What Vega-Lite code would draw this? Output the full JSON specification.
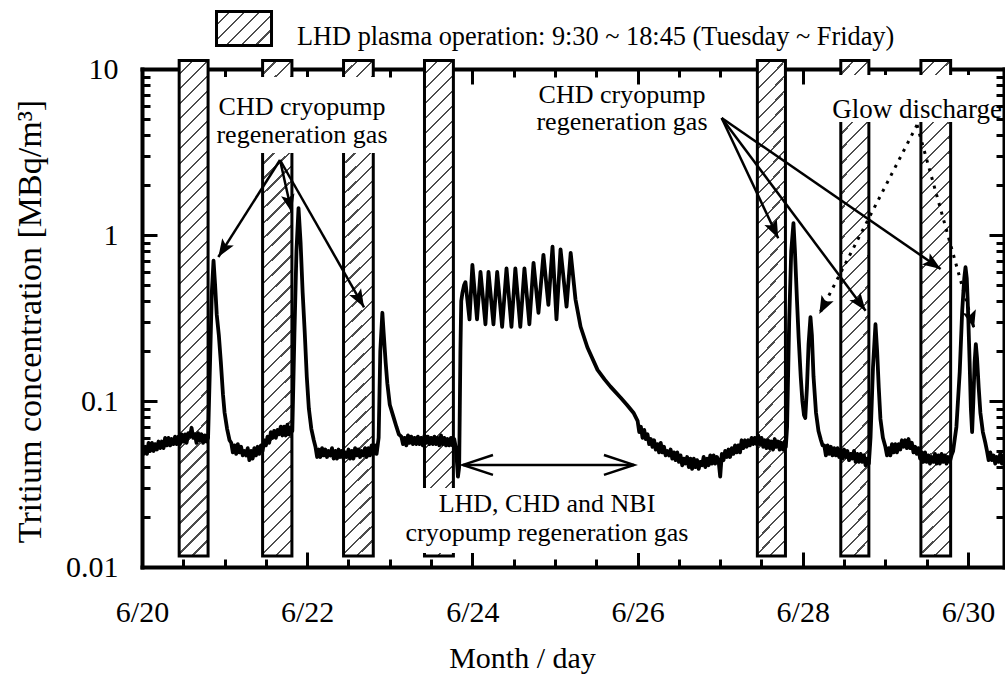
{
  "$schema": "https://vega.github.io/schema/vega-lite/v6.json",
  "width": 862,
  "height": 498,
  "autosize": {"type": "none"},
  "padding": {"left": 142, "top": 69, "right": 1, "bottom": 110},
  "background": "white",
  "view": {"stroke": null},
  "config": {
    "font": "Liberation Serif",
    "axis": {"domainColor": "black", "domainWidth": 4, "domainCap": "square", "tickColor": "black", "tickWidth": 3, "grid": false, "labelColor": "black", "labelFont": "Liberation Serif", "labelFontSize": 30, "titleFont": "Liberation Serif", "titleFontSize": 30, "titleFontWeight": "normal", "titleColor": "black", "labelOverlap": false, "labelFlush": false, "labelBound": false},
    "text": {"font": "Liberation Serif", "fontSize": 26, "color": "black"}
  },
  "datasets": {
    "series": [
      {"day":20.00,"conc":0.054},{"day":20.02,"conc":0.048},{"day":20.04,"conc":0.053},{"day":20.06,"conc":0.048},{"day":20.08,"conc":0.056},{"day":20.10,"conc":0.050},{"day":20.12,"conc":0.056},{"day":20.14,"conc":0.050},{"day":20.16,"conc":0.055},{"day":20.18,"conc":0.051},{"day":20.20,"conc":0.057},{"day":20.22,"conc":0.052},{"day":20.24,"conc":0.057},{"day":20.26,"conc":0.052},{"day":20.28,"conc":0.060},{"day":20.30,"conc":0.054},{"day":20.32,"conc":0.060},{"day":20.34,"conc":0.054},{"day":20.36,"conc":0.059},{"day":20.38,"conc":0.055},{"day":20.40,"conc":0.061},{"day":20.42,"conc":0.055},{"day":20.44,"conc":0.061},{"day":20.46,"conc":0.055},{"day":20.48,"conc":0.063},{"day":20.50,"conc":0.057},{"day":20.52,"conc":0.063},{"day":20.54,"conc":0.056},{"day":20.56,"conc":0.064},{"day":20.58,"conc":0.061},{"day":20.60,"conc":0.069},{"day":20.62,"conc":0.060},{"day":20.64,"conc":0.063},{"day":20.66,"conc":0.056},{"day":20.68,"conc":0.064},{"day":20.70,"conc":0.058},{"day":20.72,"conc":0.063},{"day":20.74,"conc":0.056},{"day":20.76,"conc":0.062},{"day":20.78,"conc":0.057},{"day":20.80,"conc":0.060},
      {"day":20.825,"conc":0.18},{"day":20.845,"conc":0.45},{"day":20.866,"conc":0.70},{"day":20.885,"conc":0.50},{"day":20.905,"conc":0.33},{"day":20.93,"conc":0.25},{"day":20.955,"conc":0.17},{"day":20.98,"conc":0.11},{"day":21.00,"conc":0.085},{"day":21.03,"conc":0.068},{"day":21.06,"conc":0.058},
      {"day":21.08,"conc":0.056},{"day":21.10,"conc":0.049},{"day":21.12,"conc":0.054},{"day":21.14,"conc":0.048},{"day":21.16,"conc":0.055},{"day":21.18,"conc":0.049},{"day":21.20,"conc":0.053},{"day":21.22,"conc":0.047},{"day":21.24,"conc":0.050},{"day":21.26,"conc":0.047},{"day":21.28,"conc":0.052},{"day":21.30,"conc":0.044},{"day":21.32,"conc":0.050},{"day":21.34,"conc":0.045},{"day":21.36,"conc":0.052},{"day":21.38,"conc":0.047},{"day":21.40,"conc":0.053},{"day":21.42,"conc":0.048},{"day":21.44,"conc":0.054},{"day":21.46,"conc":0.050},{"day":21.48,"conc":0.058},{"day":21.50,"conc":0.054},{"day":21.52,"conc":0.061},{"day":21.54,"conc":0.056},{"day":21.56,"conc":0.065},{"day":21.58,"conc":0.060},{"day":21.60,"conc":0.066},{"day":21.62,"conc":0.060},{"day":21.64,"conc":0.067},{"day":21.66,"conc":0.063},{"day":21.68,"conc":0.070},{"day":21.70,"conc":0.062},{"day":21.72,"conc":0.070},{"day":21.74,"conc":0.062},{"day":21.76,"conc":0.072},{"day":21.78,"conc":0.063},{"day":21.80,"conc":0.069},{"day":21.82,"conc":0.066},
      {"day":21.845,"conc":0.25},{"day":21.87,"conc":0.80},{"day":21.895,"conc":1.45},{"day":21.92,"conc":0.90},{"day":21.945,"conc":0.45},{"day":21.97,"conc":0.26},{"day":21.995,"conc":0.14},{"day":22.02,"conc":0.09},{"day":22.05,"conc":0.068},{"day":22.08,"conc":0.058},
      {"day":22.10,"conc":0.053},{"day":22.12,"conc":0.046},{"day":22.14,"conc":0.051},{"day":22.16,"conc":0.046},{"day":22.18,"conc":0.052},{"day":22.20,"conc":0.047},{"day":22.22,"conc":0.051},{"day":22.24,"conc":0.046},{"day":22.26,"conc":0.050},{"day":22.28,"conc":0.047},{"day":22.30,"conc":0.052},{"day":22.32,"conc":0.045},{"day":22.34,"conc":0.050},{"day":22.36,"conc":0.045},{"day":22.38,"conc":0.051},{"day":22.40,"conc":0.046},{"day":22.42,"conc":0.050},{"day":22.44,"conc":0.045},{"day":22.46,"conc":0.049},{"day":22.48,"conc":0.046},{"day":22.50,"conc":0.051},{"day":22.52,"conc":0.045},{"day":22.54,"conc":0.050},{"day":22.56,"conc":0.045},{"day":22.58,"conc":0.052},{"day":22.60,"conc":0.047},{"day":22.62,"conc":0.051},{"day":22.64,"conc":0.046},{"day":22.66,"conc":0.050},{"day":22.68,"conc":0.047},{"day":22.70,"conc":0.052},{"day":22.72,"conc":0.046},{"day":22.74,"conc":0.052},{"day":22.76,"conc":0.047},{"day":22.78,"conc":0.054},{"day":22.80,"conc":0.048},{"day":22.82,"conc":0.054},{"day":22.84,"conc":0.048},{"day":22.865,"conc":0.060},
      {"day":22.885,"conc":0.20},{"day":22.91,"conc":0.34},{"day":22.925,"conc":0.26},{"day":22.95,"conc":0.17},{"day":22.97,"conc":0.128},{"day":23.00,"conc":0.095},{"day":23.045,"conc":0.080},{"day":23.08,"conc":0.070},{"day":23.11,"conc":0.063},
      {"day":23.14,"conc":0.061},{"day":23.16,"conc":0.055},{"day":23.18,"conc":0.060},{"day":23.20,"conc":0.054},{"day":23.22,"conc":0.062},{"day":23.24,"conc":0.056},{"day":23.26,"conc":0.061},{"day":23.28,"conc":0.055},{"day":23.30,"conc":0.060},{"day":23.32,"conc":0.055},{"day":23.34,"conc":0.061},{"day":23.36,"conc":0.055},{"day":23.38,"conc":0.060},{"day":23.40,"conc":0.054},{"day":23.42,"conc":0.062},{"day":23.44,"conc":0.056},{"day":23.46,"conc":0.061},{"day":23.48,"conc":0.055},{"day":23.50,"conc":0.060},{"day":23.52,"conc":0.055},{"day":23.54,"conc":0.061},{"day":23.56,"conc":0.055},{"day":23.58,"conc":0.060},{"day":23.60,"conc":0.054},{"day":23.62,"conc":0.062},{"day":23.64,"conc":0.055},{"day":23.66,"conc":0.060},{"day":23.68,"conc":0.054},{"day":23.70,"conc":0.059},{"day":23.72,"conc":0.054},{"day":23.74,"conc":0.060},{"day":23.76,"conc":0.054},{"day":23.78,"conc":0.059},{"day":23.80,"conc":0.052},
      {"day":23.81,"conc":0.045},{"day":23.825,"conc":0.035},{"day":23.84,"conc":0.040},{"day":23.855,"conc":0.20},{"day":23.865,"conc":0.40},{"day":23.88,"conc":0.45},{"day":23.90,"conc":0.50},{"day":23.916,"conc":0.52},
      {"day":23.965,"conc":0.31},{"day":24.00,"conc":0.66},{"day":24.056,"conc":0.31},{"day":24.098,"conc":0.60},{"day":24.158,"conc":0.29},{"day":24.195,"conc":0.60},{"day":24.255,"conc":0.29},{"day":24.30,"conc":0.60},{"day":24.36,"conc":0.28},{"day":24.413,"conc":0.63},{"day":24.473,"conc":0.28},{"day":24.52,"conc":0.63},{"day":24.58,"conc":0.28},{"day":24.63,"conc":0.63},{"day":24.69,"conc":0.29},{"day":24.74,"conc":0.68},{"day":24.80,"conc":0.34},{"day":24.86,"conc":0.76},{"day":24.92,"conc":0.38},{"day":24.97,"conc":0.85},{"day":25.018,"conc":0.31},{"day":25.067,"conc":0.82},{"day":25.14,"conc":0.37},{"day":25.19,"conc":0.78},
      {"day":25.248,"conc":0.41},{"day":25.31,"conc":0.28},{"day":25.393,"conc":0.21},{"day":25.515,"conc":0.154},{"day":25.60,"conc":0.135},{"day":25.672,"conc":0.122},{"day":25.793,"conc":0.105},{"day":25.87,"conc":0.095},{"day":25.95,"conc":0.085},
      {"day":26.00,"conc":0.076},{"day":26.02,"conc":0.065},{"day":26.04,"conc":0.070},{"day":26.06,"conc":0.060},{"day":26.08,"conc":0.067},{"day":26.10,"conc":0.059},{"day":26.12,"conc":0.063},{"day":26.14,"conc":0.055},{"day":26.16,"conc":0.059},{"day":26.18,"conc":0.053},{"day":26.20,"conc":0.058},{"day":26.22,"conc":0.051},{"day":26.24,"conc":0.055},{"day":26.26,"conc":0.049},{"day":26.28,"conc":0.056},{"day":26.30,"conc":0.049},{"day":26.32,"conc":0.053},{"day":26.34,"conc":0.047},{"day":26.36,"conc":0.050},{"day":26.38,"conc":0.047},{"day":26.40,"conc":0.051},{"day":26.42,"conc":0.045},{"day":26.44,"conc":0.049},{"day":26.46,"conc":0.044},{"day":26.48,"conc":0.049},{"day":26.50,"conc":0.043},{"day":26.52,"conc":0.047},{"day":26.54,"conc":0.041},{"day":26.56,"conc":0.045},{"day":26.58,"conc":0.042},{"day":26.60,"conc":0.046},{"day":26.62,"conc":0.040},{"day":26.64,"conc":0.045},{"day":26.66,"conc":0.039},{"day":26.68,"conc":0.045},{"day":26.70,"conc":0.040},{"day":26.72,"conc":0.044},{"day":26.74,"conc":0.039},{"day":26.76,"conc":0.043},{"day":26.78,"conc":0.041},{"day":26.80,"conc":0.046},{"day":26.82,"conc":0.040},{"day":26.84,"conc":0.045},{"day":26.86,"conc":0.041},{"day":26.88,"conc":0.047},{"day":26.90,"conc":0.042},{"day":26.92,"conc":0.047},{"day":26.94,"conc":0.042},{"day":26.96,"conc":0.046},{"day":26.98,"conc":0.044},{"day":27.00,"conc":0.035},{"day":27.02,"conc":0.048},{"day":27.04,"conc":0.044},{"day":27.06,"conc":0.050},{"day":27.08,"conc":0.046},{"day":27.10,"conc":0.051},{"day":27.12,"conc":0.046},{"day":27.14,"conc":0.052},{"day":27.16,"conc":0.048},{"day":27.18,"conc":0.054},{"day":27.20,"conc":0.049},{"day":27.22,"conc":0.054},{"day":27.24,"conc":0.049},{"day":27.26,"conc":0.058},{"day":27.28,"conc":0.052},{"day":27.30,"conc":0.058},{"day":27.32,"conc":0.053},{"day":27.34,"conc":0.058},{"day":27.36,"conc":0.054},{"day":27.38,"conc":0.060},{"day":27.40,"conc":0.055},{"day":27.42,"conc":0.060},{"day":27.44,"conc":0.055},
      {"day":27.46,"conc":0.062},{"day":27.48,"conc":0.055},{"day":27.50,"conc":0.060},{"day":27.52,"conc":0.053},{"day":27.54,"conc":0.058},{"day":27.56,"conc":0.052},{"day":27.58,"conc":0.058},{"day":27.60,"conc":0.052},{"day":27.62,"conc":0.057},{"day":27.64,"conc":0.051},{"day":27.66,"conc":0.059},{"day":27.68,"conc":0.053},{"day":27.70,"conc":0.057},{"day":27.72,"conc":0.051},{"day":27.74,"conc":0.056},{"day":27.76,"conc":0.051},{"day":27.78,"conc":0.057},{"day":27.795,"conc":0.053},
      {"day":27.81,"conc":0.07},{"day":27.835,"conc":0.30},{"day":27.86,"conc":0.80},{"day":27.887,"conc":1.18},{"day":27.905,"conc":0.80},{"day":27.93,"conc":0.40},{"day":27.95,"conc":0.24},{"day":27.975,"conc":0.14},{"day":27.995,"conc":0.10},{"day":28.015,"conc":0.082},{"day":28.03,"conc":0.079},{"day":28.05,"conc":0.12},{"day":28.07,"conc":0.22},{"day":28.093,"conc":0.32},{"day":28.11,"conc":0.25},{"day":28.13,"conc":0.14},{"day":28.16,"conc":0.085},{"day":28.19,"conc":0.066},{"day":28.22,"conc":0.058},{"day":28.24,"conc":0.054},
      {"day":28.26,"conc":0.054},{"day":28.28,"conc":0.047},{"day":28.30,"conc":0.054},{"day":28.32,"conc":0.048},{"day":28.34,"conc":0.053},{"day":28.36,"conc":0.047},{"day":28.38,"conc":0.052},{"day":28.40,"conc":0.047},{"day":28.42,"conc":0.052},{"day":28.44,"conc":0.046},{"day":28.46,"conc":0.051},{"day":28.48,"conc":0.045},{"day":28.50,"conc":0.051},{"day":28.52,"conc":0.046},{"day":28.54,"conc":0.050},{"day":28.56,"conc":0.044},{"day":28.58,"conc":0.048},{"day":28.60,"conc":0.045},{"day":28.62,"conc":0.050},{"day":28.64,"conc":0.043},{"day":28.66,"conc":0.048},{"day":28.68,"conc":0.043},{"day":28.70,"conc":0.048},{"day":28.72,"conc":0.043},{"day":28.74,"conc":0.047},{"day":28.76,"conc":0.041},{"day":28.78,"conc":0.045},{"day":28.80,"conc":0.042},
      {"day":28.82,"conc":0.06},{"day":28.85,"conc":0.16},{"day":28.88,"conc":0.29},{"day":28.90,"conc":0.20},{"day":28.92,"conc":0.12},{"day":28.94,"conc":0.078},{"day":28.97,"conc":0.060},
      {"day":29.00,"conc":0.053},{"day":29.02,"conc":0.047},{"day":29.04,"conc":0.052},{"day":29.06,"conc":0.047},{"day":29.08,"conc":0.055},{"day":29.10,"conc":0.049},{"day":29.12,"conc":0.055},{"day":29.14,"conc":0.049},{"day":29.16,"conc":0.055},{"day":29.18,"conc":0.051},{"day":29.20,"conc":0.058},{"day":29.22,"conc":0.053},{"day":29.24,"conc":0.058},{"day":29.26,"conc":0.052},{"day":29.28,"conc":0.059},{"day":29.30,"conc":0.052},{"day":29.32,"conc":0.056},{"day":29.34,"conc":0.049},{"day":29.36,"conc":0.053},{"day":29.38,"conc":0.048},{"day":29.40,"conc":0.052},{"day":29.42,"conc":0.045},{"day":29.44,"conc":0.049},{"day":29.46,"conc":0.043},{"day":29.48,"conc":0.049},{"day":29.50,"conc":0.043},{"day":29.52,"conc":0.047},{"day":29.54,"conc":0.042},{"day":29.56,"conc":0.046},{"day":29.58,"conc":0.043},{"day":29.60,"conc":0.048},{"day":29.62,"conc":0.042},{"day":29.64,"conc":0.047},{"day":29.66,"conc":0.042},{"day":29.68,"conc":0.048},{"day":29.70,"conc":0.043},{"day":29.72,"conc":0.047},{"day":29.74,"conc":0.042},{"day":29.76,"conc":0.046},{"day":29.78,"conc":0.043},{"day":29.80,"conc":0.047},{"day":29.82,"conc":0.050},
      {"day":29.86,"conc":0.07},{"day":29.90,"conc":0.15},{"day":29.93,"conc":0.35},{"day":29.955,"conc":0.55},{"day":29.97,"conc":0.64},{"day":29.985,"conc":0.55},{"day":29.995,"conc":0.42},{"day":30.005,"conc":0.30},{"day":30.02,"conc":0.17},{"day":30.035,"conc":0.09},{"day":30.05,"conc":0.065},{"day":30.065,"conc":0.10},{"day":30.08,"conc":0.17},{"day":30.095,"conc":0.22},{"day":30.11,"conc":0.18},{"day":30.13,"conc":0.12},{"day":30.15,"conc":0.085},{"day":30.18,"conc":0.065},{"day":30.21,"conc":0.056},{"day":30.23,"conc":0.050},
      {"day":30.25,"conc":0.044},{"day":30.27,"conc":0.049},{"day":30.29,"conc":0.044},{"day":30.31,"conc":0.047},{"day":30.33,"conc":0.042},{"day":30.35,"conc":0.046},{"day":30.37,"conc":0.043},{"day":30.39,"conc":0.048},{"day":30.41,"conc":0.042},{"day":30.43,"conc":0.047},{"day":30.436,"conc":0.044}
    ],
    "ops": [
      {"s":20.45,"e":20.80},{"s":21.46,"e":21.815},{"s":22.44,"e":22.80},{"s":23.42,"e":23.77},{"s":27.45,"e":27.79},{"s":28.46,"e":28.80},{"s":29.43,"e":29.79}
    ],
    "arrows": [
      {"id":"a1","style":"solid","x":21.671,"y":2.83,"x2":20.924,"y2":0.737},
      {"id":"a2","style":"solid","x":21.671,"y":2.83,"x2":21.812,"y2":1.37},
      {"id":"a3","style":"solid","x":21.671,"y":2.83,"x2":22.688,"y2":0.367},
      {"id":"b1","style":"solid","x":27.018,"y":5.07,"x2":27.703,"y2":0.955},
      {"id":"b2","style":"solid","x":27.018,"y":5.07,"x2":28.761,"y2":0.350},
      {"id":"b3","style":"solid","x":27.018,"y":5.07,"x2":29.669,"y2":0.624},
      {"id":"g1","style":"dotted","x":29.383,"y":4.60,"x2":28.200,"y2":0.334},
      {"id":"g2","style":"dotted","x":29.383,"y":4.60,"x2":30.073,"y2":0.274}
    ],
    "dbl": [{"id":"L","x":23.886},{"id":"R","x":25.956}]
  },
  "resolve": {"axis": {"x": "independent", "y": "independent"}},
  "layer": [
    {
      "data": {"name": "ops"},
      "mark": {"type": "rect", "stroke": "black", "strokeWidth": 3,
        "fill": {"gradient": "linear", "x1": 0, "y1": 0, "x2": 0.0617, "y2": 1.0549, "stops": [
          {"offset":0,"color":"#ffffff"},{"offset":0.0243,"color":"#ffffff"},{"offset":0.0243,"color":"#4d4d4d"},{"offset":0.0286,"color":"#4d4d4d"},
          {"offset":0.0286,"color":"#ffffff"},{"offset":0.0529,"color":"#ffffff"},{"offset":0.0529,"color":"#4d4d4d"},{"offset":0.0571,"color":"#4d4d4d"},
          {"offset":0.0571,"color":"#ffffff"},{"offset":0.0814,"color":"#ffffff"},{"offset":0.0814,"color":"#4d4d4d"},{"offset":0.0857,"color":"#4d4d4d"},
          {"offset":0.0857,"color":"#ffffff"},{"offset":0.11,"color":"#ffffff"},{"offset":0.11,"color":"#4d4d4d"},{"offset":0.1143,"color":"#4d4d4d"},
          {"offset":0.1143,"color":"#ffffff"},{"offset":0.1386,"color":"#ffffff"},{"offset":0.1386,"color":"#4d4d4d"},{"offset":0.1429,"color":"#4d4d4d"},
          {"offset":0.1429,"color":"#ffffff"},{"offset":0.1671,"color":"#ffffff"},{"offset":0.1671,"color":"#4d4d4d"},{"offset":0.1714,"color":"#4d4d4d"},
          {"offset":0.1714,"color":"#ffffff"},{"offset":0.1957,"color":"#ffffff"},{"offset":0.1957,"color":"#4d4d4d"},{"offset":0.2,"color":"#4d4d4d"},
          {"offset":0.2,"color":"#ffffff"},{"offset":0.2243,"color":"#ffffff"},{"offset":0.2243,"color":"#4d4d4d"},{"offset":0.2286,"color":"#4d4d4d"},
          {"offset":0.2286,"color":"#ffffff"},{"offset":0.2529,"color":"#ffffff"},{"offset":0.2529,"color":"#4d4d4d"},{"offset":0.2571,"color":"#4d4d4d"},
          {"offset":0.2571,"color":"#ffffff"},{"offset":0.2814,"color":"#ffffff"},{"offset":0.2814,"color":"#4d4d4d"},{"offset":0.2857,"color":"#4d4d4d"},
          {"offset":0.2857,"color":"#ffffff"},{"offset":0.31,"color":"#ffffff"},{"offset":0.31,"color":"#4d4d4d"},{"offset":0.3143,"color":"#4d4d4d"},
          {"offset":0.3143,"color":"#ffffff"},{"offset":0.3386,"color":"#ffffff"},{"offset":0.3386,"color":"#4d4d4d"},{"offset":0.3429,"color":"#4d4d4d"},
          {"offset":0.3429,"color":"#ffffff"},{"offset":0.3671,"color":"#ffffff"},{"offset":0.3671,"color":"#4d4d4d"},{"offset":0.3714,"color":"#4d4d4d"},
          {"offset":0.3714,"color":"#ffffff"},{"offset":0.3957,"color":"#ffffff"},{"offset":0.3957,"color":"#4d4d4d"},{"offset":0.4,"color":"#4d4d4d"},
          {"offset":0.4,"color":"#ffffff"},{"offset":0.4243,"color":"#ffffff"},{"offset":0.4243,"color":"#4d4d4d"},{"offset":0.4286,"color":"#4d4d4d"},
          {"offset":0.4286,"color":"#ffffff"},{"offset":0.4529,"color":"#ffffff"},{"offset":0.4529,"color":"#4d4d4d"},{"offset":0.4571,"color":"#4d4d4d"},
          {"offset":0.4571,"color":"#ffffff"},{"offset":0.4814,"color":"#ffffff"},{"offset":0.4814,"color":"#4d4d4d"},{"offset":0.4857,"color":"#4d4d4d"},
          {"offset":0.4857,"color":"#ffffff"},{"offset":0.51,"color":"#ffffff"},{"offset":0.51,"color":"#4d4d4d"},{"offset":0.5143,"color":"#4d4d4d"},
          {"offset":0.5143,"color":"#ffffff"},{"offset":0.5386,"color":"#ffffff"},{"offset":0.5386,"color":"#4d4d4d"},{"offset":0.5429,"color":"#4d4d4d"},
          {"offset":0.5429,"color":"#ffffff"},{"offset":0.5671,"color":"#ffffff"},{"offset":0.5671,"color":"#4d4d4d"},{"offset":0.5714,"color":"#4d4d4d"},
          {"offset":0.5714,"color":"#ffffff"},{"offset":0.5957,"color":"#ffffff"},{"offset":0.5957,"color":"#4d4d4d"},{"offset":0.6,"color":"#4d4d4d"},
          {"offset":0.6,"color":"#ffffff"},{"offset":0.6243,"color":"#ffffff"},{"offset":0.6243,"color":"#4d4d4d"},{"offset":0.6286,"color":"#4d4d4d"},
          {"offset":0.6286,"color":"#ffffff"},{"offset":0.6529,"color":"#ffffff"},{"offset":0.6529,"color":"#4d4d4d"},{"offset":0.6571,"color":"#4d4d4d"},
          {"offset":0.6571,"color":"#ffffff"},{"offset":0.6814,"color":"#ffffff"},{"offset":0.6814,"color":"#4d4d4d"},{"offset":0.6857,"color":"#4d4d4d"},
          {"offset":0.6857,"color":"#ffffff"},{"offset":0.71,"color":"#ffffff"},{"offset":0.71,"color":"#4d4d4d"},{"offset":0.7143,"color":"#4d4d4d"},
          {"offset":0.7143,"color":"#ffffff"},{"offset":0.7386,"color":"#ffffff"},{"offset":0.7386,"color":"#4d4d4d"},{"offset":0.7429,"color":"#4d4d4d"},
          {"offset":0.7429,"color":"#ffffff"},{"offset":0.7671,"color":"#ffffff"},{"offset":0.7671,"color":"#4d4d4d"},{"offset":0.7714,"color":"#4d4d4d"},
          {"offset":0.7714,"color":"#ffffff"},{"offset":0.7957,"color":"#ffffff"},{"offset":0.7957,"color":"#4d4d4d"},{"offset":0.8,"color":"#4d4d4d"},
          {"offset":0.8,"color":"#ffffff"},{"offset":0.8243,"color":"#ffffff"},{"offset":0.8243,"color":"#4d4d4d"},{"offset":0.8286,"color":"#4d4d4d"},
          {"offset":0.8286,"color":"#ffffff"},{"offset":0.8529,"color":"#ffffff"},{"offset":0.8529,"color":"#4d4d4d"},{"offset":0.8571,"color":"#4d4d4d"},
          {"offset":0.8571,"color":"#ffffff"},{"offset":0.8814,"color":"#ffffff"},{"offset":0.8814,"color":"#4d4d4d"},{"offset":0.8857,"color":"#4d4d4d"},
          {"offset":0.8857,"color":"#ffffff"},{"offset":0.91,"color":"#ffffff"},{"offset":0.91,"color":"#4d4d4d"},{"offset":0.9143,"color":"#4d4d4d"},
          {"offset":0.9143,"color":"#ffffff"},{"offset":0.9386,"color":"#ffffff"},{"offset":0.9386,"color":"#4d4d4d"},{"offset":0.9429,"color":"#4d4d4d"},
          {"offset":0.9429,"color":"#ffffff"},{"offset":0.9671,"color":"#ffffff"},{"offset":0.9671,"color":"#4d4d4d"},{"offset":0.9714,"color":"#4d4d4d"},
          {"offset":0.9714,"color":"#ffffff"},{"offset":0.9957,"color":"#ffffff"},{"offset":0.9957,"color":"#4d4d4d"},{"offset":1,"color":"#4d4d4d"}
        ]}},
      "encoding": {
        "x": {"field": "s", "type": "quantitative", "scale": {"domain": [20, 30.436], "nice": false, "zero": false},
          "axis": {"orient": "top", "values": [20,20.5,21,21.5,22,22.5,23,23.5,24,24.5,25,25.5,26,26.5,27,27.5,28,28.5,29,29.5,30], "labels": false, "title": null,
            "tickSize": {"condition": {"test": "datum.value % 2 == 0", "value": -15}, "value": -8}}},
        "x2": {"field": "e"},
        "y": {"datum": 0.01165, "type": "quantitative", "scale": {"type": "log", "domain": [0.01, 10], "nice": false},
          "axis": {"orient": "right", "values": [0.01,0.02,0.03,0.04,0.05,0.06,0.07,0.08,0.09,0.1,0.2,0.3,0.4,0.5,0.6,0.7,0.8,0.9,1,2,3,4,5,6,7,8,9,10], "labels": false, "title": null,
            "tickSize": {"condition": {"test": "indexof([0.01,0.1,1,10], datum.value) >= 0", "value": -15}, "value": -8}}},
        "y2": {"datum": 11.25}
      }
    },
    {
      "data": {"name": "series"},
      "mark": {"type": "line", "color": "black", "strokeWidth": 3.8, "clip": true, "strokeJoin": "round"},
      "encoding": {
        "x": {"field": "day", "type": "quantitative", "scale": {"domain": [20, 30.436], "nice": false, "zero": false},
          "axis": {"orient": "bottom", "values": [20,20.5,21,21.5,22,22.5,23,23.5,24,24.5,25,25.5,26,26.5,27,27.5,28,28.5,29,29.5,30],
            "labelExpr": "datum.value % 2 == 0 ? '6/' + datum.value : ''",
            "tickSize": {"condition": {"test": "datum.value % 2 == 0", "value": -15}, "value": -8},
            "labelPadding": 45, "labelBaseline": "top", "labelAlign": "center",
            "title": "Month / day", "titleX": 380, "titleY": 100, "titleAlign": "center", "titleBaseline": "alphabetic"}},
        "y": {"field": "conc", "type": "quantitative", "scale": {"type": "log", "domain": [0.01, 10], "nice": false},
          "axis": {"orient": "left", "values": [0.01,0.02,0.03,0.04,0.05,0.06,0.07,0.08,0.09,0.1,0.2,0.3,0.4,0.5,0.6,0.7,0.8,0.9,1,2,3,4,5,6,7,8,9,10],
            "labelExpr": "datum.value === 0.01 ? '0.01' : datum.value === 0.1 ? '0.1' : datum.value === 1 ? '1' : datum.value === 10 ? '10' : ''",
            "tickSize": {"condition": {"test": "indexof([0.01,0.1,1,10], datum.value) >= 0", "value": -15}, "value": -8},
            "labelPadding": 39, "labelBaseline": "middle", "labelAlign": "right",
            "title": "Tritium concentration [MBq/m³]", "titleFontSize": 34, "titleX": -102, "titleY": 252, "titleAngle": -90, "titleAlign": "center", "titleBaseline": "alphabetic"}}
      }
    },
    {
      "data": {"values": [{}]},
      "mark": {"type": "rect", "fill": "white"},
      "encoding": {
        "x": {"datum": 20.884, "type": "quantitative", "scale": {"domain": [20, 30.436], "nice": false, "zero": false}, "axis": null},
        "x2": {"datum": 22.954},
        "y": {"datum": 3.12, "type": "quantitative", "scale": {"type": "log", "domain": [0.01, 10], "nice": false}, "axis": null},
        "y2": {"datum": 8.95}
      }
    },
    {
      "data": {"values": [{}]},
      "mark": {"type": "rect", "fill": "white"},
      "encoding": {
        "x": {"datum": 28.305, "type": "quantitative", "scale": {"domain": [20, 30.436], "nice": false, "zero": false}, "axis": null},
        "x2": {"datum": 30.266},
        "y": {"datum": 4.80, "type": "quantitative", "scale": {"type": "log", "domain": [0.01, 10], "nice": false}, "axis": null},
        "y2": {"datum": 9.20}
      }
    },
    {
      "data": {"values": [{}]},
      "mark": {"type": "rect", "fill": "white"},
      "encoding": {
        "x": {"datum": 23.123, "type": "quantitative", "scale": {"domain": [20, 30.436], "nice": false, "zero": false}, "axis": null},
        "x2": {"datum": 26.695},
        "y": {"datum": 0.01213, "type": "quantitative", "scale": {"type": "log", "domain": [0.01, 10], "nice": false}, "axis": null},
        "y2": {"datum": 0.0299}
      }
    },
    {
      "data": {"name": "arrows"},
      "transform": [{"filter": "datum.style == 'solid'"}],
      "mark": {"type": "rule", "color": "black", "strokeWidth": 2.5},
      "encoding": {
        "x": {"field": "x", "type": "quantitative", "scale": {"domain": [20, 30.436], "nice": false, "zero": false}, "axis": null},
        "y": {"field": "y", "type": "quantitative", "scale": {"type": "log", "domain": [0.01, 10], "nice": false}, "axis": null},
        "x2": {"field": "x2"},
        "y2": {"field": "y2"}
      }
    },
    {
      "data": {"name": "arrows"},
      "transform": [{"filter": "datum.style == 'dotted'"}],
      "mark": {"type": "rule", "color": "black", "strokeWidth": 3, "strokeDash": [3, 6]},
      "encoding": {
        "x": {"field": "x", "type": "quantitative", "scale": {"domain": [20, 30.436], "nice": false, "zero": false}, "axis": null},
        "y": {"field": "y", "type": "quantitative", "scale": {"type": "log", "domain": [0.01, 10], "nice": false}, "axis": null},
        "x2": {"field": "x2"},
        "y2": {"field": "y2"}
      }
    },
    {
      "data": {"name": "arrows"},
      "mark": {"type": "point", "shape": "M0,0L-1,-0.38L-0.78,0L-1,0.38Z", "filled": true, "color": "black", "opacity": 1, "size": 1296, "strokeWidth": 0},
      "encoding": {
        "x": {"field": "x2", "type": "quantitative", "scale": {"domain": [20, 30.436], "nice": false, "zero": false}, "axis": null},
        "y": {"field": "y2", "type": "quantitative", "scale": {"type": "log", "domain": [0.01, 10], "nice": false}, "axis": null},
        "angle": {"field": "id", "type": "nominal", "scale": {"type": "ordinal", "domain": ["a1","a2","a3","b1","b2","b3","g1","g2","L","R"], "range": [122.5,77.4,60.3,64.8,53.2,34.6,117.3,74.6,180,0]}, "legend": null}
      }
    },
    {
      "data": {"values": [{}]},
      "mark": {"type": "rule", "color": "black", "strokeWidth": 2.5},
      "encoding": {
        "x": {"datum": 23.886, "type": "quantitative", "scale": {"domain": [20, 30.436], "nice": false, "zero": false}, "axis": null},
        "x2": {"datum": 25.956},
        "y": {"datum": 0.0412, "type": "quantitative", "scale": {"type": "log", "domain": [0.01, 10], "nice": false}, "axis": null}
      }
    },
    {
      "data": {"name": "dbl"},
      "mark": {"type": "point", "shape": "M-1,-0.33L0,0L-1,0.33", "filled": false, "color": "black", "opacity": 1, "size": 3600, "strokeWidth": 2.5},
      "encoding": {
        "x": {"field": "x", "type": "quantitative", "scale": {"domain": [20, 30.436], "nice": false, "zero": false}, "axis": null},
        "y": {"datum": 0.0412, "type": "quantitative", "scale": {"type": "log", "domain": [0.01, 10], "nice": false}, "axis": null},
        "angle": {"field": "id", "type": "nominal", "scale": {"type": "ordinal", "domain": ["a1","a2","a3","b1","b2","b3","g1","g2","L","R"], "range": [122.5,77.4,60.3,64.8,53.2,34.6,117.3,74.6,180,0]}, "legend": null}
      }
    },
    {
      "data": {"values": [{}]},
      "mark": {"type": "text", "align": "center", "baseline": "alphabetic", "lineHeight": 28},
      "encoding": {
        "x": {"datum": 21.937, "type": "quantitative", "scale": {"domain": [20, 30.436], "nice": false, "zero": false}, "axis": null},
        "y": {"datum": 5.28, "type": "quantitative", "scale": {"type": "log", "domain": [0.01, 10], "nice": false}, "axis": null},
        "text": {"value": ["CHD cryopump", "regeneration gas"]}
      }
    },
    {
      "data": {"values": [{}]},
      "mark": {"type": "text", "align": "center", "baseline": "alphabetic", "lineHeight": 27},
      "encoding": {
        "x": {"datum": 25.811, "type": "quantitative", "scale": {"domain": [20, 30.436], "nice": false, "zero": false}, "axis": null},
        "y": {"datum": 6.24, "type": "quantitative", "scale": {"type": "log", "domain": [0.01, 10], "nice": false}, "axis": null},
        "text": {"value": ["CHD cryopump", "regeneration gas"]}
      }
    },
    {
      "data": {"values": [{}]},
      "mark": {"type": "text", "align": "center", "baseline": "alphabetic", "fontSize": 27},
      "encoding": {
        "x": {"datum": 29.383, "type": "quantitative", "scale": {"domain": [20, 30.436], "nice": false, "zero": false}, "axis": null},
        "y": {"datum": 5.07, "type": "quantitative", "scale": {"type": "log", "domain": [0.01, 10], "nice": false}, "axis": null},
        "text": {"value": "Glow discharge"}
      }
    },
    {
      "data": {"values": [{}]},
      "mark": {"type": "text", "align": "center", "baseline": "alphabetic", "lineHeight": 29},
      "encoding": {
        "x": {"datum": 24.903, "type": "quantitative", "scale": {"domain": [20, 30.436], "nice": false, "zero": false}, "axis": null},
        "y": {"datum": 0.02143, "type": "quantitative", "scale": {"type": "log", "domain": [0.01, 10], "nice": false}, "axis": null},
        "text": {"value": ["LHD, CHD and NBI", "cryopump regeneration gas"]}
      }
    },
    {
      "data": {"values": [{}]},
      "mark": {"type": "rect", "stroke": "black", "strokeWidth": 3,
        "fill": {"gradient": "linear", "x1": 0, "y1": 0, "x2": 1.1707, "y2": 0.7237, "stops": [
          {"offset":0,"color":"#ffffff"},{"offset":0.1417,"color":"#ffffff"},{"offset":0.1417,"color":"#4d4d4d"},{"offset":0.1667,"color":"#4d4d4d"},
          {"offset":0.1667,"color":"#ffffff"},{"offset":0.3083,"color":"#ffffff"},{"offset":0.3083,"color":"#4d4d4d"},{"offset":0.3333,"color":"#4d4d4d"},
          {"offset":0.3333,"color":"#ffffff"},{"offset":0.475,"color":"#ffffff"},{"offset":0.475,"color":"#4d4d4d"},{"offset":0.5,"color":"#4d4d4d"},
          {"offset":0.5,"color":"#ffffff"},{"offset":0.6417,"color":"#ffffff"},{"offset":0.6417,"color":"#4d4d4d"},{"offset":0.6667,"color":"#4d4d4d"},
          {"offset":0.6667,"color":"#ffffff"},{"offset":0.8083,"color":"#ffffff"},{"offset":0.8083,"color":"#4d4d4d"},{"offset":0.8333,"color":"#4d4d4d"},
          {"offset":0.8333,"color":"#ffffff"},{"offset":0.975,"color":"#ffffff"},{"offset":0.975,"color":"#4d4d4d"},{"offset":1,"color":"#4d4d4d"}
        ]}},
      "encoding": {
        "x": {"datum": 20.902, "type": "quantitative", "scale": {"domain": [20, 30.436], "nice": false, "zero": false}, "axis": null},
        "x2": {"datum": 21.568},
        "y": {"datum": 13.86, "type": "quantitative", "scale": {"type": "log", "domain": [0.01, 10], "nice": false}, "axis": null},
        "y2": {"datum": 22.2}
      }
    },
    {
      "data": {"values": [{}]},
      "mark": {"type": "text", "align": "left", "baseline": "alphabetic", "fontSize": 26.3},
      "encoding": {
        "x": {"datum": 21.877, "type": "quantitative", "scale": {"domain": [20, 30.436], "nice": false, "zero": false}, "axis": null},
        "y": {"datum": 13.95, "type": "quantitative", "scale": {"type": "log", "domain": [0.01, 10], "nice": false}, "axis": null},
        "text": {"value": "LHD plasma operation: 9:30 ~ 18:45 (Tuesday ~ Friday)"}
      }
    }
  ]
}
